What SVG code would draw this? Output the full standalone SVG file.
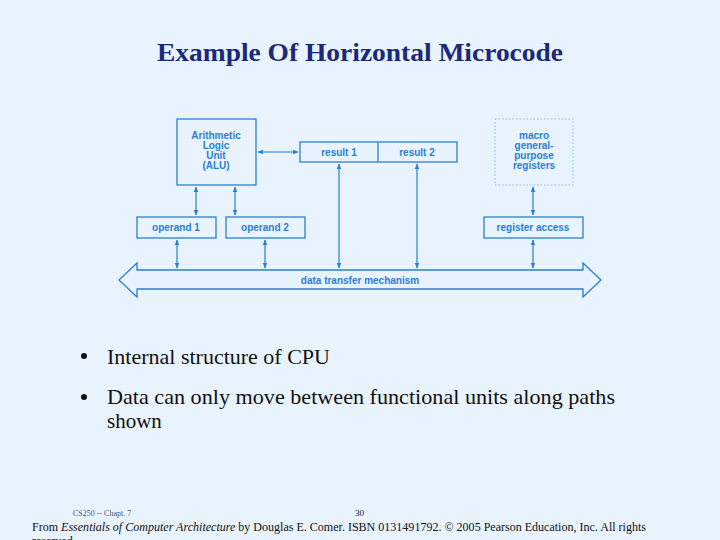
<svg xmlns="http://www.w3.org/2000/svg" width="720" height="540" viewBox="0 0 720 540">
<defs>
<marker id="a" viewBox="0 0 10 10" refX="9" refY="5" markerWidth="5" markerHeight="5" orient="auto-start-reverse"><path d="M0,1 L10,5 L0,9 z" fill="#2a7fd4"/></marker>
<style>
.b{fill:none;stroke:#2a7fd4;stroke-width:1.3}
.t{font-family:"Liberation Sans",Arial,sans-serif;font-weight:bold;font-size:10px;fill:#2a7fd4;text-anchor:middle}
.c{stroke:#2a7fd4;stroke-width:1.2;fill:none;marker-start:url(#a);marker-end:url(#a)}
.s{font-family:"Liberation Serif","Times New Roman",serif;fill:#111}
</style>
</defs>
<rect width="720" height="540" fill="#e9f3fd"/>
<text x="360" y="61" text-anchor="middle" class="s" font-size="25" font-weight="bold" style="fill:#1b2a78" textLength="406" lengthAdjust="spacingAndGlyphs">Example Of Horizontal Microcode</text>
<g id="alu"><rect class="b" x="177" y="119" width="79" height="66"/><text class="t" x="216" y="139">Arithmetic</text><text class="t" x="216" y="149">Logic</text><text class="t" x="216" y="159">Unit</text><text class="t" x="216" y="169">(ALU)</text></g>
<g id="result"><rect class="b" x="300" y="142" width="157" height="20"/><line class="b" x1="378" y1="142" x2="378" y2="162"/><text class="t" x="339" y="156">result 1</text><text class="t" x="417" y="156">result 2</text></g>
<g id="macro"><rect x="495" y="119" width="78" height="66" fill="none" stroke="#8ab8e4" stroke-width="1" stroke-dasharray="1.5,2"/><text class="t" x="534" y="139">macro</text><text class="t" x="534" y="149">general-</text><text class="t" x="534" y="159">purpose</text><text class="t" x="534" y="169">registers</text></g>
<g id="op1"><rect class="b" x="137" y="217" width="79" height="21"/><text class="t" x="176" y="231">operand 1</text></g>
<g id="op2"><rect class="b" x="226" y="217" width="79" height="21"/><text class="t" x="265" y="231">operand 2</text></g>
<g id="reg"><rect class="b" x="484" y="217" width="99" height="21"/><text class="t" x="533" y="231">register access</text></g>
<g id="bus"><path class="b" d="M137,270 H583 V263 L601,280 L583,297 V289 H137 V297 L119,280 L137,263 Z"/><text class="t" x="360" y="284">data transfer mechanism</text></g>
<g id="connectors">
<line class="c" x1="258" y1="152" x2="298" y2="152"/>
<line class="c" x1="196" y1="187" x2="196" y2="215"/>
<line class="c" x1="235" y1="187" x2="235" y2="215"/>
<line class="c" x1="177" y1="240" x2="177" y2="268"/>
<line class="c" x1="265" y1="240" x2="265" y2="268"/>
<line class="c" x1="339" y1="164" x2="339" y2="268"/>
<line class="c" x1="417" y1="164" x2="417" y2="268"/>
<line class="c" x1="533" y1="187" x2="533" y2="215"/>
<line class="c" x1="533" y1="240" x2="533" y2="268"/>
</g>
<circle cx="84" cy="356" r="3" fill="#111"/>
<text class="s" x="107" y="364" font-size="21" textLength="223" lengthAdjust="spacingAndGlyphs">Internal structure of CPU</text>
<circle cx="84" cy="397" r="3" fill="#111"/>
<text class="s" x="107" y="404" font-size="21" textLength="508" lengthAdjust="spacingAndGlyphs">Data can only move between functional units along paths</text>
<text class="s" x="107" y="428" font-size="21">shown</text>
<text class="s" x="73" y="516" font-size="8" style="fill:#555">CS250 -- Chapt. 7</text>
<text class="s" x="355" y="516" font-size="9">30</text>
<text class="s" x="32" y="531" font-size="12" textLength="614" lengthAdjust="spacingAndGlyphs">From <tspan font-style="italic">Essentials of Computer Architecture</tspan> by Douglas E. Comer. ISBN 0131491792. © 2005 Pearson Education, Inc. All rights</text>
<text class="s" x="32" y="545" font-size="12">reserved.</text>
</svg>
